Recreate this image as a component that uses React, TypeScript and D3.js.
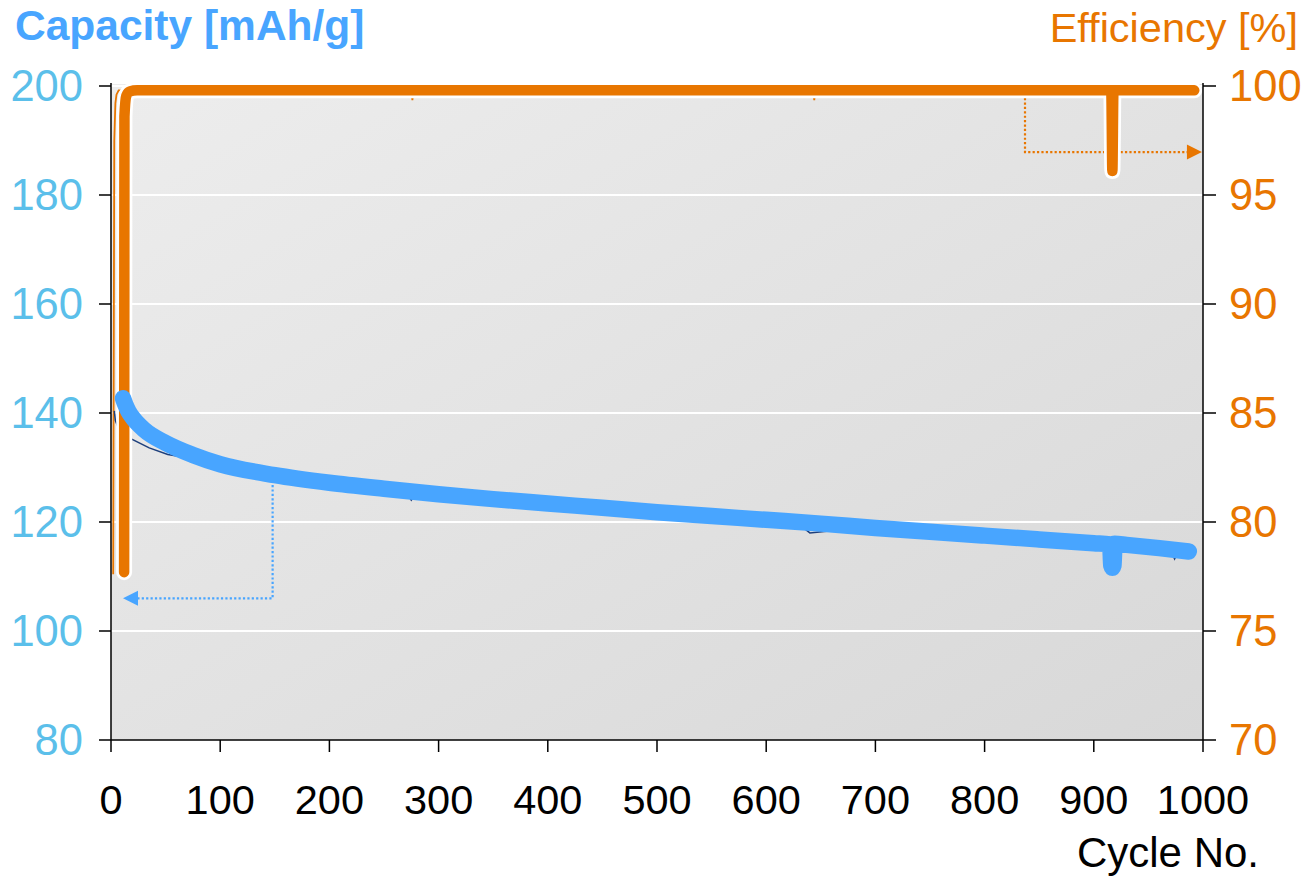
import React from "react";
import * as d3 from "d3";

// Smoothed capacity trace (cycle number, mAh/g)
const capCycles = [11, 13, 16, 20, 30, 50, 75, 100, 150, 200, 250, 300, 350, 400, 450, 500, 550, 600, 650, 700, 750, 800, 850, 900, 915, 916, 917, 918, 919, 930, 960, 987];
const capValues = [142.7, 141.6, 140.3, 139.1, 137.0, 134.5, 132.3, 130.6, 128.6, 127.2, 126.1, 125.1, 124.2, 123.4, 122.6, 121.8, 121.1, 120.4, 119.7, 118.9, 118.2, 117.5, 116.8, 116.1, 115.9, 112.0, 111.6, 112.0, 116.0, 115.8, 115.2, 114.6];

// Raw capacity points (thin trace underneath)
const rawCapCycles = [3, 4, 6, 12, 19, 35, 52, 70, 90, 150, 270, 275, 280, 400, 600, 630, 640, 660, 700, 720, 800, 900, 970, 974, 978, 987];
const rawCapValues = [140.4, 138.6, 137.6, 136.4, 135.2, 133.6, 132.4, 131.8, 130.8, 128.6, 125.6, 124.0, 125.4, 123.4, 120.4, 119.6, 118.0, 118.4, 118.3, 117.6, 117.5, 116.1, 115.0, 113.2, 114.9, 114.6];

// Smoothed coulombic efficiency trace (cycle number, %)
const effCycles = [12, 12.3, 14, 17, 24, 916, 917, 918, 992];
const effValues = [77.7, 98.6, 99.55, 99.75, 99.8, 99.8, 96.1, 99.8, 99.8];

// Raw efficiency points (thin trace underneath)
const rawEffCycles = [2, 3, 4, 5, 7, 275, 276, 277, 334, 335, 336, 643, 644, 645, 990];
const rawEffValues = [77.6, 97.5, 99.2, 99.6, 99.8, 99.8, 99.35, 99.8, 99.8, 99.6, 99.8, 99.8, 99.35, 99.8, 99.8];

const xTicks = [0, 100, 200, 300, 400, 500, 600, 700, 800, 900, 1000];
const capTicks = [80, 100, 120, 140, 160, 180, 200];
const effTicks = [70, 75, 80, 85, 90, 95, 100];

// Axis-pointer annotations (data units)
const capPointer = [[148, 127.6], [148, 106.0], [24, 106.0]];
const capPointerTip = [11, 106.0];
const effPointer = [[837, 99.65], [837, 96.97], [987, 96.97]];
const effPointerTip = [999, 96.97];

const W = 1306;
const H = 877;
const left = 111;
const right = 1203;
const top = 86;
const bottom = 740;

const CAP_BLUE = "#48a5ff";
const CAP_TICK = "#5bbfea";
const EFF_ORANGE = "#e87600";
const FONT = "'Liberation Sans', Arial, sans-serif";

export default function App() {
  const x = d3.scaleLinear().domain([0, 1000]).range([left, right]);
  const yCap = d3.scaleLinear().domain([80, 200]).range([bottom, top]);
  const yEff = d3.scaleLinear().domain([70, 100]).range([bottom, top]);

  const capLine = d3
    .line<number>()
    .x((_, i) => x(capCycles[i]))
    .y((v) => yCap(v))
    .curve(d3.curveMonotoneX);
  const rawCapLine = d3
    .line<number>()
    .x((_, i) => x(rawCapCycles[i]))
    .y((v) => yCap(v));
  const effLine = d3
    .line<number>()
    .x((_, i) => x(effCycles[i]))
    .y((v) => yEff(v))
    .curve(d3.curveMonotoneX);
  const rawEffLine = d3
    .line<number>()
    .x((_, i) => x(rawEffCycles[i]))
    .y((v) => yEff(v));

  const capPtrPath = d3.line<number[]>().x((p) => x(p[0])).y((p) => yCap(p[1]))(capPointer) || "";
  const effPtrPath = d3.line<number[]>().x((p) => x(p[0])).y((p) => yEff(p[1]))(effPointer) || "";

  const cTipX = x(capPointerTip[0]);
  const cTipY = yCap(capPointerTip[1]);
  const eTipX = x(effPointerTip[0]);
  const eTipY = yEff(effPointerTip[1]);

  return (
    <svg
      width={W}
      height={H}
      style={{ position: "absolute", left: 0, top: 0, background: "#fff" }}
      fontFamily={FONT}
    >
      <defs>
        <linearGradient id="plotBg" x1="0" y1="0" x2="1" y2="1">
          <stop offset="0%" stopColor="#ededed" />
          <stop offset="100%" stopColor="#d8d8d8" />
        </linearGradient>
      </defs>

      <rect x={left} y={top - 2} width={right - left} height={bottom - top + 2} fill="url(#plotBg)" />

      {/* horizontal grid */}
      {capTicks.slice(1).map((t) => (
        <line key={"g" + t} x1={left} x2={right} y1={yCap(t)} y2={yCap(t)} stroke="#ffffff" strokeWidth={2} />
      ))}

      {/* raw traces */}
      <path d={rawEffLine(rawEffValues) || ""} fill="none" stroke={EFF_ORANGE} strokeWidth={1.8} />
      <path d={rawCapLine(rawCapValues) || ""} fill="none" stroke="#1d3f7c" strokeWidth={1.5} />

      {/* axis pointers */}
      <path d={capPtrPath} fill="none" stroke={CAP_BLUE} strokeWidth={2.2} strokeDasharray="2.2 2.2" />
      <path d={`M${cTipX},${cTipY} L${cTipX + 15},${cTipY - 7.5} L${cTipX + 15},${cTipY + 7.5} Z`} fill={CAP_BLUE} />
      <path d={effPtrPath} fill="none" stroke={EFF_ORANGE} strokeWidth={2.2} strokeDasharray="2.2 2.2" />
      <path d={`M${eTipX},${eTipY} L${eTipX - 15},${eTipY - 7.5} L${eTipX - 15},${eTipY + 7.5} Z`} fill={EFF_ORANGE} />

      {/* efficiency trace with white halo */}
      <path d={effLine(effValues) || ""} fill="none" stroke="#ffffff" strokeWidth={16} strokeLinecap="round" strokeLinejoin="round" />
      <path d={effLine(effValues) || ""} fill="none" stroke={EFF_ORANGE} strokeWidth={10.5} strokeLinecap="round" strokeLinejoin="round" />

      {/* capacity trace */}
      <path d={capLine(capValues) || ""} fill="none" stroke={CAP_BLUE} strokeWidth={16.5} strokeLinecap="round" strokeLinejoin="round" />

      {/* axes */}
      <g stroke="#000" strokeWidth={1.5}>
        <line x1={left} x2={left} y1={top - 3} y2={bottom} />
        <line x1={right} x2={right} y1={top - 3} y2={bottom} />
        <line x1={left} x2={right} y1={bottom} y2={bottom} />
        {capTicks.map((t) => (
          <line key={"lt" + t} x1={left - 12} x2={left} y1={yCap(t)} y2={yCap(t)} />
        ))}
        {effTicks.map((t) => (
          <line key={"rt" + t} x1={right} x2={right + 13} y1={yEff(t)} y2={yEff(t)} />
        ))}
        {xTicks.map((t) => (
          <line key={"bt" + t} x1={x(t)} x2={x(t)} y1={bottom} y2={bottom + 12} />
        ))}
      </g>

      {/* tick labels */}
      {capTicks.map((t) => (
        <text key={"ll" + t} x={83} y={yCap(t) + 15} textAnchor="end" fontSize={43.5} fill={CAP_TICK}>
          {t}
        </text>
      ))}
      {effTicks.map((t) => (
        <text key={"rl" + t} x={1229} y={yEff(t) + 15} textAnchor="start" fontSize={43.5} fill={EFF_ORANGE}>
          {t}
        </text>
      ))}
      {xTicks.map((t) => (
        <text key={"xl" + t} x={x(t)} y={814} textAnchor="middle" fontSize={41.5} fill="#000">
          {t}
        </text>
      ))}

      {/* titles */}
      <text x={15} y={40} fontSize={42.5} fontWeight="bold" fill={CAP_BLUE}>
        Capacity [mAh/g]
      </text>
      <text x={1298} y={42} fontSize={41.5} textAnchor="end" fill={EFF_ORANGE}>
        Efficiency [%]
      </text>
      <text x={1259} y={867} fontSize={42} textAnchor="end" fill="#000">
        Cycle No.
      </text>
    </svg>
  );
}
